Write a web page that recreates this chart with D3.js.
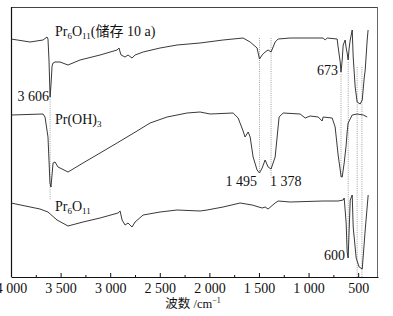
<!DOCTYPE html>
<html><head><meta charset="utf-8">
<script src="https://cdn.jsdelivr.net/npm/d3@7"></script>
<style>
html,body{margin:0;padding:0;background:#fff;}
svg{display:block;}
</style></head>
<body><svg id="chart" width="393" height="316"></svg>
<script>
// Wavenumbers (cm^-1) and relative transmittance (arbitrary, offset per curve)
const storedWn  = [4000,3808,3677,3637,3627,3617,3606,3597,3586,3576,3556,3506,3425,3304,3102,2931,2911,2900,2890,2850,2820,2780,2749,2668,2497,2326,2094,1862,1660,1589,1519,1495,1468,1438,1408,1378,1337,1307,1186,853,833,812,712,702,681,673,661,651,631,621,611,601,591,580,560,550,530,510,480,459,439,429,409,400];
const storedVal = [238,235,237,240,238,217,180,192,211,214,215,215,212,217,222,227,229,225,222,220,222,219,222,225,229,232,234,237,239,235,229,218,222,225,227,225,235,238,239,239,237,239,238,230,215,205,217,232,237,229,224,217,229,237,247,220,190,175,173,177,199,207,237,247];

const hydWn  = [4000,3677,3657,3627,3607,3597,3576,3556,3526,3425,3274,3102,2931,2729,2598,2426,2225,2094,1993,1761,1710,1660,1640,1609,1589,1559,1519,1495,1468,1438,1408,1378,1337,1317,1297,1256,1085,1034,984,903,863,853,762,732,702,671,661,641,621,611,601,560,510,449,409];
const hydVal = [162,163,160,140,94,90,114,115,110,105,114,124,134,146,154,160,164,165,163,164,159,146,140,145,140,120,107,104,109,117,110,108,120,140,160,164,163,159,161,160,156,160,159,150,122,100,100,114,132,145,154,162,163,162,160];

const oxWn  = [4000,3708,3627,3536,3425,3274,3102,2921,2900,2880,2850,2820,2780,2749,2668,2497,2326,2094,2023,1862,1690,1569,1468,1438,1408,1337,1307,1186,853,702,651,641,621,611,601,580,560,550,520,490,459,429,399];
const oxVal = [74,68,65,57,51,55,59,64,66,57,52,54,50,55,62,65,67,66,67,70,74,72,69,70,68,74,76,75,76,76,77,79,54,25,19,77,82,50,19,10,8,47,82];

// Marked band positions (dotted guide lines) and their vertical extent
const guideWn   = [3606,1495,1378,673,600,510,462];
const guideFrom = [180,239,239,205,215,210,210];
const guideTo   = [77,105,101,100,19,0,0];

const xTicksMajor = [4000,3500,3000,2500,2000,1500,1000,500];
const xTicksMinor = [3750,3250,2750,2250,1750,1250,750];

const FONT = "'Liberation Serif','Times New Roman','DejaVu Serif','Noto Sans CJK SC',serif";

const svg = d3.select("#chart");
const L = 11, R = 378, T = 7, B = 277;
const x = d3.scaleLinear().domain([4000,300]).range([L,R]);
const y = d3.scaleLinear().domain([0,270]).range([B,T]);

// frame
svg.append("line").attr("x1",L).attr("x2",R).attr("y1",T+0.5).attr("y2",T+0.5).attr("stroke","#444").attr("stroke-width",1);
svg.append("line").attr("x1",R-0.5).attr("x2",R-0.5).attr("y1",T).attr("y2",B).attr("stroke","#666").attr("stroke-width",1);
svg.append("line").attr("x1",L+0.5).attr("x2",L+0.5).attr("y1",T).attr("y2",B).attr("stroke","#111").attr("stroke-width",1.2);

// guides
guideWn.forEach((w,i)=>{
  svg.append("line")
    .attr("x1",x(w)).attr("x2",x(w))
    .attr("y1",y(guideFrom[i])).attr("y2",y(guideTo[i]))
    .attr("stroke","#888").attr("stroke-width",0.8).attr("stroke-dasharray","1,1.2");
});

// curves
const line = d3.line().x(d=>x(d[0])).y(d=>y(d[1]));
[[storedWn,storedVal],[hydWn,hydVal],[oxWn,oxVal]].forEach(([w,v])=>{
  svg.append("path").datum(w.map((d,i)=>[d,v[i]]))
    .attr("d",line).attr("fill","none").attr("stroke","#222").attr("stroke-width",0.9);
});

// axis
const fmt = d => { const s = String(d); return s.length>3 ? s.slice(0,s.length-3)+" "+s.slice(-3) : s; };
const ax = svg.append("g").attr("transform",`translate(0,${B})`)
  .call(d3.axisBottom(x).tickValues(xTicksMajor).tickFormat(fmt).tickSize(-4).tickPadding(6).tickSizeOuter(0));
ax.attr("font-family",FONT).attr("font-size",14);
ax.select(".domain").attr("stroke","#111").attr("stroke-width",1.2);
ax.selectAll(".tick line").attr("stroke","#111");
ax.selectAll("text").attr("fill","#111");
const axm = svg.append("g").attr("transform",`translate(0,${B})`)
  .call(d3.axisBottom(x).tickValues(xTicksMinor).tickFormat("").tickSize(-2).tickSizeOuter(0));
axm.select(".domain").remove();
axm.selectAll(".tick line").attr("stroke","#111");

// axis title
const tt = svg.append("text").attr("x",193).attr("y",308).attr("text-anchor","middle")
  .attr("font-family",FONT).attr("font-size",12.5).attr("fill","#111");
tt.append("tspan").text("波数 /cm");
tt.append("tspan").attr("dy",-5).attr("font-size",8).text("−1");

// labels
function formula(xp, yp, parts){
  const t = svg.append("text").attr("x",xp).attr("y",yp)
    .attr("font-family",FONT).attr("font-size",14).attr("fill","#111");
  parts.forEach(p=>{
    const s = t.append("tspan").text(p[0]);
    if(p[1]==="sub"){ s.attr("font-size",9).attr("dy",3); }
    else if(p[1]==="back"){ s.attr("dy",-3); }
  });
  return t;
}
formula(55,36,[["Pr"],["6","sub"],["O","back"],["11","sub"],["(储存 10 a)","back"]]);
formula(55,124,[["Pr(OH)"],["3","sub"]]);
formula(55,211,[["Pr"],["6","sub"],["O","back"],["11","sub"]]);

const notes = [["3 606",49,101,"end"],["673",338,75,"end"],["1 495",257,186,"end"],["1 378",270,186,"start"],["600",345,260,"end"]];
notes.forEach(n=>{
  svg.append("text").attr("x",n[1]).attr("y",n[2]).attr("text-anchor",n[3])
    .attr("font-family",FONT).attr("font-size",14).attr("fill","#111").text(n[0]);
});
</script>
</body></html>
